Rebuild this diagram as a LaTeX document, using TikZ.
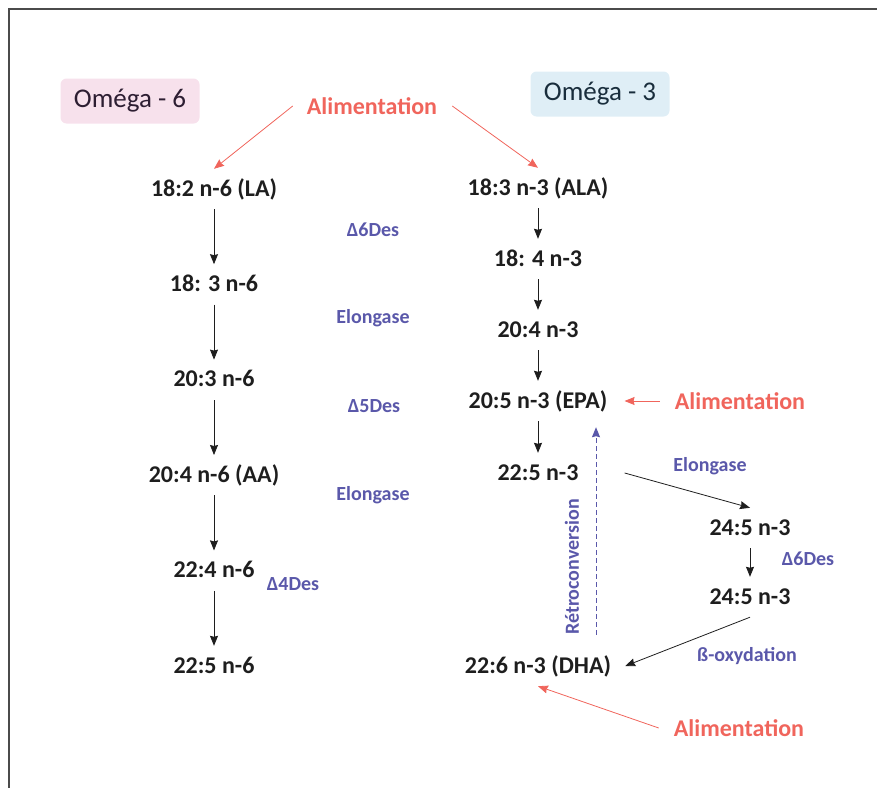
\documentclass[tikz,border=0pt]{standalone}
\usepackage{fontspec}
\setmainfont{Carlito}
\usetikzlibrary{arrows.meta,positioning}
\definecolor{ink}{RGB}{30,30,30}
\definecolor{enz}{RGB}{90,88,170}
\definecolor{food}{RGB}{240,101,92}
\definecolor{pinkbox}{RGB}{247,225,236}
\definecolor{bluebox}{RGB}{223,238,246}
\definecolor{framegray}{RGB}{75,75,75}
\begin{document}
\begin{tikzpicture}[x=1pt,y=-1pt,>={Stealth[length=10pt,width=8pt,inset=1pt]},node distance=95.4pt,
	acid/.style={font=\bfseries\fontsize{24}{24}\selectfont,text=ink,inner sep=0pt,minimum height=40pt,text height=17pt,text depth=3pt},
	enzyme/.style={font=\bfseries\fontsize{20}{20}\selectfont,text=enz,inner sep=0pt},
	diet/.style={font=\bfseries\fontsize{24}{24}\selectfont,text=food,inner sep=0pt},
	family/.style={rounded corners=6pt,minimum width=139pt,minimum height=45pt,inner sep=0pt,font=\fontsize{27}{27}\selectfont}]

\useasboundingbox (0,0) rectangle (877,787);
\clip (0,0) rectangle (877,787);
\draw[framegray,line width=2pt] (9,9) rectangle (900,810);

\node[family,fill=pinkbox,text={rgb,255:red,45;green,30;blue,50}]   (w6) at (130,101)  {Oméga - 6};
\node[family,fill=bluebox,text={rgb,255:red,25;green,45;blue,60}]   (w3) at (600,94)   {Oméga - 3};

\node[diet] (food1) at (372,106) {Alimentation};
\node[diet] (food2) at (740,401) {Alimentation};
\node[diet] (food3) at (739,728) {Alimentation};

% omega 6
\node[acid]   (l1) at (214,189)   {18:2 n-6 (LA)};
 \node[acid]   (l2) [below of=l1]   {18: 3 n-6};
	\node[acid]   (l3) [below of=l2]   {20:3 n-6};
	\node[acid]   (l4) [below of=l3]   {20:4 n-6 (AA)};
	\node[acid]   (l5) [below of=l4]   {22:4 n-6};
	\node[acid]   (l6) [below of=l5]   {22:5 n-6};

\node[enzyme] (e1) at (373,230) {Δ6Des};
\node[enzyme] (e2) at (373,318) {Elongase};
\node[enzyme] (e3) at (374,406) {Δ5Des};
\node[enzyme] (e4) at (373,495) {Elongase};
\node[enzyme] (e5) at (293,584) {Δ4Des};

% omega 3
\node[acid]   (r1) at (538,188)   {18:3 n-3 (ALA)};
 \node[acid]   (r2) [below of=r1,node distance=71pt]   {18: 4 n-3};
	\node[acid]   (r3) [below of=r2,node distance=71pt]   {20:4 n-3};
	\node[acid]   (r4) [below of=r3,node distance=71pt]   {20:5 n-3 (EPA)};
	\node[acid]   (r5) [below of=r4,node distance=72pt]   {22:5 n-3};
	\node[acid]   (r6) at (538,666)   {22:6 n-3 (DHA)};
\node[acid]   (a1) at (750,528)   {24:5 n-3};
	\node[acid]   (a2) [below of=a1,node distance=69pt]   {24:5 n-3};

\node[enzyme] (e6) at (710,466) {Elongase};
\node[enzyme] (e7) at (808,559) {Δ6Des};
\node[enzyme] (e8) at (747,656) {ß-oxydation};
\node[enzyme,rotate=90] (e9) at (572,567) {Rétroconversion};

\path[->,ink,line width=0.8pt] (l1) edge (l2)
		(l2) edge (l3)
		(l3) edge (l4)
		(l4) edge (l5)
		(l5) edge (l6)
	(r1) edge (r2)
		(r2) edge (r3)
		(r3) edge (r4)
		(r4) edge (r5)
	([xshift=46pt]r5.east) edge (a1.north)
		(a1) edge (a2)
		(a2.south) edge ([xshift=14pt]r6.east);

\path[->,food,line width=0.8pt] ([xshift=-14pt]food1.west) edge (l1.north)
		([xshift=15pt]food1.east) edge (r1.north)
		([xshift=-15pt]food2.west) edge ([xshift=17pt]r4.east)
		([xshift=-15pt]food3.west) edge (r6.south);

\draw[->,enz,line width=1pt,dash pattern=on 5pt off 3pt] ([xshift=58pt,yshift=11pt]r6.north) -- ([xshift=58pt,yshift=-6pt]r4.south);

\end{tikzpicture}
\end{document}
